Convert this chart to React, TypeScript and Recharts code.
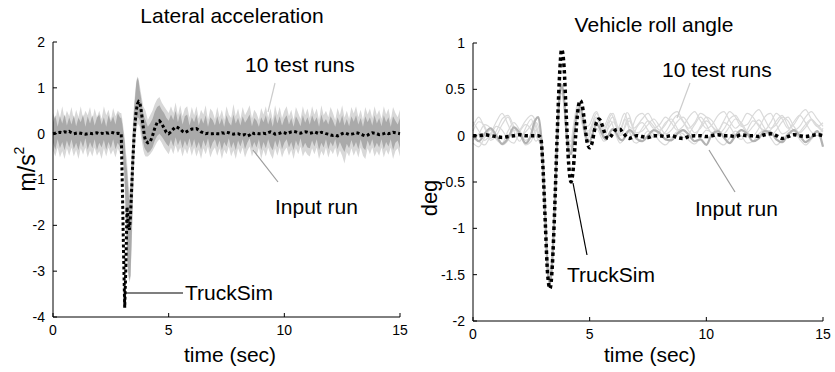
import React from 'react';
import { ComposedChart, LineChart, Area, Line, XAxis, YAxis } from 'recharts';

// ---- left panel: lateral acceleration (m/s^2) ----
const accTime = [
  0, 0.1, 0.2, 0.3, 0.4, 0.5, 0.6, 0.7, 0.8, 0.9, 1, 1.1, 1.2, 1.3, 1.4, 1.5, 1.6, 1.7, 1.8, 1.9,
  2, 2.1, 2.2, 2.3, 2.4, 2.5, 2.6, 2.7, 2.8, 2.9,
  2.95, 3, 3.05, 3.1, 3.15, 3.2, 3.25, 3.3, 3.35, 3.4, 3.45, 3.5, 3.55, 3.6, 3.65, 3.7, 3.75, 3.8, 3.85, 3.9, 3.95, 4,
  4.1, 4.2, 4.3, 4.4, 4.5, 4.6, 4.7, 4.8, 4.9, 5,
  5.1, 5.2, 5.3, 5.4, 5.5, 5.6, 5.7, 5.8, 5.9, 6,
  6.1, 6.2, 6.3, 6.4, 6.5, 6.6, 6.7, 6.8, 6.9, 7,
  7.1, 7.2, 7.3, 7.4, 7.5, 7.6, 7.7, 7.8, 7.9, 8,
  8.1, 8.2, 8.3, 8.4, 8.5, 8.6, 8.7, 8.8, 8.9, 9,
  9.1, 9.2, 9.3, 9.4, 9.5, 9.6, 9.7, 9.8, 9.9, 10,
  10.1, 10.2, 10.3, 10.4, 10.5, 10.6, 10.7, 10.8, 10.9, 11,
  11.1, 11.2, 11.3, 11.4, 11.5, 11.6, 11.7, 11.8, 11.9, 12,
  12.1, 12.2, 12.3, 12.4, 12.5, 12.6, 12.7, 12.8, 12.9, 13,
  13.1, 13.2, 13.3, 13.4, 13.5, 13.6, 13.7, 13.8, 13.9, 14,
  14.1, 14.2, 14.3, 14.4, 14.5, 14.6, 14.7, 14.8, 14.9, 15,
];

// envelope of the 10 test runs
const accRunsHi = [
  0.45, 0.3, 0.55, 0.35, 0.6, 0.32, 0.5, 0.38, 0.58, 0.3, 0.52, 0.36, 0.6, 0.33, 0.5, 0.4, 0.58, 0.3, 0.55, 0.36,
  0.5, 0.32, 0.6, 0.4, 0.52, 0.3, 0.56, 0.38, 0.5, 0.45,
  0.45, 0.3, 0.1, -0.1, -0.4, -0.6, -1.0, -1.3, -1.0, -0.4, 0.2, 0.6, 0.9, 1.15, 1.25, 1.2, 1.05, 0.9, 0.75, 0.6, 0.55, 0.5,
  0.3, 0.4, 0.5, 0.65, 0.75, 0.8, 0.68, 0.6, 0.52, 0.45,
  0.6, 0.45, 0.68, 0.4, 0.62, 0.38, 0.55, 0.6, 0.35, 0.58,
  0.4, 0.6, 0.33, 0.52, 0.42, 0.62, 0.3, 0.55, 0.48, 0.32,
  0.58, 0.36, 0.52, 0.3, 0.6, 0.42, 0.34, 0.65, 0.38, 0.55,
  0.32, 0.58, 0.4, 0.5, 0.62, 0.33, 0.52, 0.44, 0.3, 0.56,
  0.42, 0.6, 0.35, 0.55, 0.3, 0.62, 0.4, 0.58, 0.34, 0.5,
  0.6, 0.38, 0.52, 0.3, 0.58, 0.45, 0.32, 0.6, 0.4, 0.55,
  0.34, 0.6, 0.42, 0.55, 0.3, 0.62, 0.4, 0.5, 0.36, 0.58,
  0.45, 0.3, 0.56, 0.4, 0.62, 0.35, 0.5, 0.32, 0.58, 0.44,
  0.6, 0.36, 0.52, 0.3, 0.58, 0.42, 0.55, 0.34, 0.6, 0.4,
  0.52, 0.32, 0.6, 0.42, 0.55, 0.3, 0.58, 0.45, 0.36, 0.52,
];
const accRunsLo = [
  -0.35, -0.5, -0.3, -0.52, -0.38, -0.55, -0.32, -0.48, -0.3, -0.5, -0.35, -0.55, -0.32, -0.46, -0.3, -0.52, -0.36, -0.5, -0.3, -0.48,
  -0.38, -0.55, -0.32, -0.5, -0.3, -0.46, -0.35, -0.52, -0.32, -0.45,
  -0.35, -0.5, -0.8, -1.2, -2.0, -2.7, -3.1, -3.25, -3.15, -2.5, -1.6, -0.8, -0.3, 0.05, 0.2, 0.2, 0.15, -0.05, -0.2, -0.35, -0.45, -0.5,
  -0.5, -0.45, -0.38, -0.28, -0.18, -0.12, -0.2, -0.3, -0.38, -0.45,
  -0.3, -0.45, -0.25, -0.42, -0.3, -0.5, -0.32, -0.45, -0.28, -0.48,
  -0.3, -0.5, -0.35, -0.55, -0.32, -0.45, -0.28, -0.52, -0.38, -0.3,
  -0.48, -0.32, -0.55, -0.35, -0.45, -0.28, -0.5, -0.36, -0.55, -0.32,
  -0.45, -0.3, -0.52, -0.38, -0.28, -0.5, -0.35, -0.48, -0.3, -0.55,
  -0.35, -0.5, -0.3, -0.45, -0.55, -0.32, -0.48, -0.3, -0.52, -0.38,
  -0.3, -0.48, -0.35, -0.55, -0.32, -0.45, -0.28, -0.5, -0.38, -0.46,
  -0.5, -0.32, -0.45, -0.3, -0.55, -0.38, -0.48, -0.3, -0.52, -0.35,
  -0.45, -0.3, -0.52, -0.36, -0.48, -0.65, -0.4, -0.5, -0.32, -0.48,
  -0.35, -0.52, -0.3, -0.48, -0.55, -0.32, -0.45, -0.3, -0.5, -0.38,
  -0.48, -0.3, -0.52, -0.35, -0.46, -0.3, -0.55, -0.38, -0.32, -0.5,
];

// band of the input run
const accInputHi = [
  0.25, 0.4, 0.15, 0.38, 0.22, 0.42, 0.18, 0.36, 0.2, 0.4, 0.16, 0.35, 0.25, 0.42, 0.15, 0.38, 0.22, 0.4, 0.18, 0.35,
  0.42, 0.2, 0.36, 0.15, 0.4, 0.25, 0.38, 0.2, 0.45, 0.35,
  0.35, 0.2, 0.0, -0.2, -0.6, -0.8, -1.2, -1.5, -1.2, -0.6, 0.0, 0.5, 0.8, 1.1, 1.22, 1.15, 0.95, 0.8, 0.6, 0.45, 0.35, 0.3,
  0.15, 0.22, 0.32, 0.48, 0.58, 0.62, 0.52, 0.45, 0.35, 0.28,
  0.42, 0.3, 0.5, 0.25, 0.45, 0.2, 0.38, 0.42, 0.18, 0.36,
  0.25, 0.42, 0.18, 0.35, 0.22, 0.4, 0.15, 0.36, 0.3, 0.18,
  0.38, 0.2, 0.34, 0.15, 0.4, 0.25, 0.18, 0.42, 0.22, 0.35,
  0.18, 0.38, 0.24, 0.32, 0.42, 0.16, 0.34, 0.28, 0.15, 0.36,
  0.25, 0.4, 0.2, 0.36, 0.15, 0.42, 0.22, 0.38, 0.18, 0.32,
  0.4, 0.2, 0.34, 0.15, 0.38, 0.28, 0.16, 0.4, 0.24, 0.36,
  0.2, 0.4, 0.26, 0.36, 0.15, 0.42, 0.24, 0.32, 0.2, 0.38,
  0.28, 0.15, 0.36, 0.22, 0.4, 0.18, 0.32, 0.16, 0.38, 0.26,
  0.4, 0.2, 0.34, 0.15, 0.38, 0.25, 0.36, 0.18, 0.4, 0.22,
  0.34, 0.16, 0.4, 0.25, 0.36, 0.15, 0.38, 0.28, 0.2, 0.34,
];
const accInputLo = [
  -0.2, -0.35, -0.12, -0.32, -0.18, -0.36, -0.15, -0.3, -0.12, -0.34, -0.2, -0.36, -0.15, -0.3, -0.1, -0.35, -0.18, -0.32, -0.12, -0.36,
  -0.2, -0.3, -0.14, -0.35, -0.18, -0.32, -0.12, -0.34, -0.2, -0.3,
  -0.25, -0.4, -0.6, -1.0, -1.8, -2.5, -3.0, -3.2, -3.1, -2.3, -1.4, -0.6, -0.1, 0.2, 0.35, 0.35, 0.3, 0.1, -0.05, -0.2, -0.3, -0.35,
  -0.42, -0.38, -0.3, -0.15, -0.05, 0.0, -0.06, -0.14, -0.22, -0.28,
  -0.12, -0.28, -0.08, -0.25, -0.12, -0.32, -0.15, -0.28, -0.1, -0.3,
  -0.12, -0.32, -0.18, -0.35, -0.14, -0.28, -0.1, -0.34, -0.2, -0.12,
  -0.3, -0.15, -0.36, -0.18, -0.28, -0.1, -0.32, -0.18, -0.36, -0.15,
  -0.28, -0.12, -0.34, -0.2, -0.1, -0.32, -0.18, -0.3, -0.12, -0.36,
  -0.18, -0.32, -0.12, -0.28, -0.36, -0.15, -0.3, -0.12, -0.34, -0.2,
  -0.12, -0.3, -0.18, -0.36, -0.15, -0.28, -0.1, -0.32, -0.2, -0.3,
  -0.32, -0.15, -0.28, -0.12, -0.36, -0.2, -0.3, -0.12, -0.34, -0.18,
  -0.28, -0.12, -0.34, -0.18, -0.3, -0.4, -0.22, -0.32, -0.14, -0.3,
  -0.18, -0.34, -0.12, -0.3, -0.36, -0.15, -0.28, -0.12, -0.32, -0.2,
  -0.3, -0.12, -0.34, -0.18, -0.28, -0.12, -0.36, -0.2, -0.15, -0.32,
];

const accTruckSim = [
  0, 0.01, 0.02, 0.03, 0.02, 0.04, 0.03, 0.05, 0.02, 0, 0.01, 0.02, 0.01, 0, -0.01, 0, 0.01, 0, 0.01, 0.02,
  0, 0.01, 0, 0.02, 0.01, 0.03, 0.02, 0, 0.01, 0,
  0, -1.2, -2.6, -3.8, -2.9, -1.6, -1.9, -2.1, -1.8, -1.2, -0.6, -0.1, 0.25, 0.5, 0.65, 0.7, 0.68, 0.55, 0.35, 0.15, -0.05, -0.15,
  -0.2, -0.18, -0.05, 0.12, 0.24, 0.28, 0.22, 0.12, 0.03, 0,
  0.04, 0.1, 0.15, 0.13, 0.1, 0.05, 0.02, 0.05, 0.08, 0.1,
  0.1, 0.11, 0.08, 0.04, 0.02, 0, 0.01, 0, 0, 0.01,
  0, 0, 0.02, 0.01, 0.03, 0.02, 0, -0.01, 0, 0,
  -0.02, -0.03, -0.02, -0.05, -0.03, 0.02, 0, 0.01, 0, 0,
  0.01, 0, 0.02, 0.04, 0.02, -0.01, 0, 0.01, 0.03, 0.02,
  0, 0.02, 0.04, 0.05, 0.04, 0.02, 0.01, 0.03, 0.04, 0.03,
  0.01, 0.02, 0.04, 0.02, 0, 0.03, 0.02, 0, -0.01, -0.03,
  -0.04, -0.03, -0.05, -0.03, 0, 0.02, 0, -0.02, -0.01, 0,
  0.02, 0.01, -0.01, -0.03, -0.05, -0.03, 0, 0.02, 0.01, 0,
  -0.02, -0.01, 0, 0.02, 0, 0.01, 0.03, 0.02, 0.01, 0,
];

// ---- right panel: vehicle roll angle (deg) ----
const rollTime = [
  0, 0.25, 0.5, 0.75, 1, 1.25, 1.5, 1.75, 2, 2.25, 2.5,
  2.6, 2.7, 2.8, 2.9,
  3, 3.1, 3.2, 3.3, 3.4, 3.5, 3.6, 3.7, 3.8, 3.9,
  4, 4.1, 4.2, 4.3, 4.4, 4.5, 4.6, 4.7, 4.8, 4.9,
  5, 5.1, 5.2, 5.3, 5.4, 5.5, 5.6, 5.7, 5.8, 5.9,
  6, 6.1, 6.2, 6.3, 6.4, 6.5, 6.6, 6.7, 6.8, 6.9,
  7,
  7.25, 7.5, 7.75, 8, 8.25, 8.5, 8.75, 9, 9.25, 9.5, 9.75, 10,
  10.25, 10.5, 10.75, 11, 11.25, 11.5, 11.75, 12, 12.25, 12.5, 12.75, 13,
  13.25, 13.5, 13.75, 14, 14.25, 14.5, 14.75, 15,
];

const rollTruckSim = [
  0, 0, 0.01, 0, -0.01, -0.02, -0.01, 0, 0.01, 0, 0,
  0, 0, 0, -0.02,
  -0.35, -0.95, -1.5, -1.65, -1.4, -0.8, -0.05, 0.6, 0.93, 0.75,
  0.2, -0.3, -0.5, -0.35, 0, 0.28, 0.38, 0.3, 0.1, -0.08,
  -0.13, -0.08, 0.05, 0.15, 0.18, 0.14, 0.06, -0.01, -0.03, -0.01,
  0.03, 0.06, 0.07, 0.07, 0.04, 0.01, -0.02, -0.03, -0.02, -0.01,
  0,
  -0.01, -0.02, 0, 0, -0.01, 0, -0.02, -0.03, -0.01, 0, 0, -0.01,
  0, 0.01, 0, 0, -0.01, 0.01, 0, 0, -0.01, 0.01, 0.02, 0,
  -0.03, -0.01, 0.01, 0, -0.01, 0, 0.01, 0,
];

const rollInput = [
  0, -0.06, 0.02, 0.08, 0, -0.09, -0.03, 0.09, 0.03, -0.08, 0.02,
  0.12, 0.18, 0.2, 0.05,
  -0.3, -0.9, -1.45, -1.6, -1.35, -0.8, -0.1, 0.4, 0.55, 0.4,
  0.05, -0.15, -0.2, -0.05, 0.15, 0.28, 0.3, 0.2, 0.05, -0.05,
  -0.06, 0, 0.08, 0.12, 0.1, 0.04, -0.02, -0.04, 0, 0.05,
  0.07, 0.05, 0, -0.04, -0.05, -0.02, 0.03, 0.06, 0.05, 0.01,
  -0.03,
  -0.06, 0, 0.06, 0.03, -0.04, -0.05, 0.02, 0.06, 0.01, -0.06, -0.04, -0.1,
  0.02, 0.05, -0.02, -0.08, 0, 0.06, 0.02, -0.06, -0.03, 0.05, 0.04, -0.04,
  -0.07, 0.01, 0.06, 0, -0.07, -0.02, 0.05, -0.12,
];

const rollRun1 = [
  0.05, 0.15, 0.1, -0.05, 0, 0.12, 0.2, 0.05, -0.06, 0.08, 0.18,
  0.1, 0, -0.05, -0.1,
  -0.4, -0.9, -1.4, -1.55, -1.3, -0.75, -0.1, 0.35, 0.5, 0.38,
  0.05, -0.15, -0.18, -0.02, 0.15, 0.26, 0.27, 0.18, 0.06, 0,
  0.02, 0.08, 0.15, 0.18, 0.15, 0.1, 0.05, 0.04, 0.08, 0.12,
  0.15, 0.12, 0.06, 0.02, 0.03, 0.08, 0.14, 0.16, 0.12, 0.06,
  0.03,
  0.05, 0.12, 0.18, 0.1, 0.02, 0.06, 0.15, 0.2, 0.12, 0.03, 0.08, 0.16,
  0.1, 0.02, 0.07, 0.18, 0.22, 0.12, 0.04, 0.1, 0.17, 0.08, 0, 0.06,
  0.15, 0.2, 0.1, 0.03, 0.09, 0.17, 0.12, 0.05,
];
const rollRun2 = [
  -0.05, 0.02, 0.12, 0.08, -0.04, -0.08, 0.05, 0.14, 0.06, -0.05, 0,
  0.08, 0.14, 0.1, -0.02,
  -0.3, -0.85, -1.35, -1.5, -1.25, -0.7, -0.05, 0.4, 0.52, 0.35,
  0, -0.18, -0.15, 0.02, 0.2, 0.3, 0.28, 0.15, 0.02, -0.04,
  0, 0.1, 0.18, 0.2, 0.14, 0.05, 0, 0.02, 0.1, 0.18,
  0.2, 0.15, 0.06, 0, 0.02, 0.1, 0.17, 0.19, 0.12, 0.04,
  0,
  0.08, 0.16, 0.1, 0, 0.04, 0.14, 0.22, 0.15, 0.05, 0, 0.1, 0.2,
  0.16, 0.06, 0.02, 0.1, 0.18, 0.14, 0.04, 0, 0.08, 0.2, 0.24, 0.12,
  0.02, 0.05, 0.15, 0.22, 0.14, 0.04, 0, 0.08,
];
const rollRun3 = [
  0.1, 0.2, 0.08, -0.03, 0.05, 0.18, 0.22, 0.1, 0, 0.04, 0.12,
  0.16, 0.08, 0, -0.08,
  -0.45, -1, -1.5, -1.6, -1.3, -0.7, 0, 0.45, 0.56, 0.4,
  0.08, -0.1, -0.12, 0.05, 0.22, 0.33, 0.32, 0.22, 0.1, 0.05,
  0.06, 0.12, 0.2, 0.24, 0.2, 0.12, 0.08, 0.1, 0.16, 0.22,
  0.24, 0.18, 0.1, 0.06, 0.1, 0.18, 0.25, 0.22, 0.14, 0.08,
  0.1,
  0.18, 0.24, 0.14, 0.06, 0.12, 0.22, 0.26, 0.16, 0.08, 0.14, 0.24, 0.2,
  0.1, 0.06, 0.16, 0.26, 0.2, 0.1, 0.12, 0.22, 0.28, 0.18, 0.08, 0.12,
  0.2, 0.16, 0.06, 0.1, 0.2, 0.26, 0.18, 0.1,
];
const rollRun4 = [
  -0.08, -0.12, -0.02, 0.06, 0, -0.1, -0.05, 0.06, 0.02, -0.1, -0.06,
  0.02, 0.06, 0.02, -0.1,
  -0.42, -0.92, -1.42, -1.58, -1.35, -0.78, -0.12, 0.32, 0.46, 0.3,
  -0.02, -0.2, -0.2, -0.06, 0.1, 0.2, 0.2, 0.1, -0.02, -0.08,
  -0.06, 0, 0.06, 0.08, 0.04, -0.02, -0.06, -0.05, 0, 0.05,
  0.06, 0.02, -0.04, -0.08, -0.06, 0, 0.05, 0.04, -0.02, -0.07,
  -0.08,
  -0.02, 0.05, 0.02, -0.06, -0.1, -0.03, 0.04, 0.02, -0.05, -0.09, -0.02, 0.06,
  0.03, -0.06, -0.1, -0.02, 0.05, 0, -0.08, -0.06, 0.02, 0.06, -0.02, -0.1,
  -0.05, 0.03, 0.05, -0.04, -0.1, -0.04, 0.04, 0,
];
const rollRun5 = [
  0.02, -0.06, -0.1, 0, 0.1, 0.06, -0.04, -0.08, 0.04, 0.12, 0.06,
  -0.02, -0.06, -0.04, -0.06,
  -0.38, -0.88, -1.38, -1.52, -1.28, -0.72, -0.06, 0.38, 0.5, 0.36,
  0.04, -0.12, -0.1, 0.06, 0.2, 0.26, 0.22, 0.12, 0.02, 0,
  0.05, 0.12, 0.16, 0.14, 0.08, 0.02, 0.02, 0.08, 0.14, 0.16,
  0.1, 0.03, 0, 0.04, 0.12, 0.18, 0.14, 0.06, 0, 0.02,
  0.08,
  0.14, 0.06, -0.02, 0.04, 0.14, 0.18, 0.08, -0.02, 0.02, 0.12, 0.2, 0.12,
  0.02, 0.04, 0.14, 0.1, 0, -0.04, 0.06, 0.16, 0.12, 0.02, 0.06, 0.16,
  0.22, 0.1, 0, 0.04, 0.12, 0.18, 0.1, 0.04,
];
const rollRun6 = [
  0.15, 0.05, -0.05, 0.02, 0.15, 0.24, 0.12, 0, 0.06, 0.16, 0.22,
  0.2, 0.12, 0.04, -0.04,
  -0.32, -0.82, -1.3, -1.45, -1.2, -0.65, 0.02, 0.42, 0.54, 0.42,
  0.12, -0.05, -0.06, 0.1, 0.26, 0.36, 0.34, 0.24, 0.14, 0.1,
  0.12, 0.18, 0.24, 0.26, 0.2, 0.12, 0.1, 0.14, 0.2, 0.24,
  0.2, 0.12, 0.08, 0.12, 0.2, 0.24, 0.18, 0.1, 0.08, 0.14,
  0.2,
  0.24, 0.16, 0.08, 0.12, 0.2, 0.14, 0.06, 0.1, 0.2, 0.26, 0.16, 0.08,
  0.12, 0.22, 0.26, 0.16, 0.08, 0.14, 0.24, 0.2, 0.1, 0.06, 0.14, 0.24,
  0.18, 0.08, 0.12, 0.22, 0.28, 0.18, 0.1, 0.14,
];
const rollRuns = [rollRun1, rollRun2, rollRun3, rollRun4, rollRun5, rollRun6];

const timeTicks = [0, 5, 10, 15];
const accTicks = [-4, -3, -2, -1, 0, 1, 2];
const rollTicks = [-2, -1.5, -1, -0.5, 0, 0.5, 1];

const accRows = accTime.map((t, i) => ({
  t,
  runs: [accRunsLo[i], accRunsHi[i]],
  input: [accInputLo[i], accInputHi[i]],
  truck: accTruckSim[i],
}));

const rollRows = rollTime.map((t, i) => {
  const row: Record<string, number> = { t, input: rollInput[i], truck: rollTruckSim[i] };
  rollRuns.forEach((r, k) => { row[`run${k}`] = r[i]; });
  return row;
});

const FONT = '"Liberation Sans", Arial, Helvetica, sans-serif';
const tickStyle = { fontSize: 14, fill: '#000', fontFamily: FONT };
const axisLine = { stroke: '#000', strokeWidth: 1 };

export default function App() {
  return (
    <div style={{ position: 'absolute', left: 0, top: 0, width: 835, height: 372, background: '#fff', fontFamily: FONT }}>
      <div style={{ position: 'absolute', left: 0, top: 0 }}>
        <ComposedChart width={420} height={372} data={accRows} margin={{ top: 42, right: 20, bottom: 0, left: 0 }}>
          <XAxis dataKey="t" type="number" domain={[0, 15]} ticks={timeTicks} height={55}
            axisLine={axisLine} tickLine={axisLine} tickSize={-4} tickMargin={12} tick={tickStyle} interval={0} />
          <YAxis type="number" domain={[-4, 2]} ticks={accTicks} width={53}
            axisLine={axisLine} tickLine={axisLine} tickSize={-4} tickMargin={12} tick={tickStyle} interval={0} />
          <Area dataKey="runs" type="linear" stroke="none" fill="#d8d8d8" fillOpacity={1} isAnimationActive={false} dot={false} activeDot={false} />
          <Area dataKey="input" type="linear" stroke="none" fill="#aaaaaa" fillOpacity={1} isAnimationActive={false} dot={false} activeDot={false} />
          <Line dataKey="truck" type="linear" stroke="#000" strokeWidth={3} strokeDasharray="3 2.5" dot={false} activeDot={false} isAnimationActive={false} />
        </ComposedChart>
      </div>
      <div style={{ position: 'absolute', left: 420, top: 0 }}>
        <LineChart width={415} height={372} data={rollRows} margin={{ top: 43, right: 12, bottom: 0, left: 0 }}>
          <XAxis dataKey="t" type="number" domain={[0, 15]} ticks={timeTicks} height={51}
            axisLine={axisLine} tickLine={axisLine} tickSize={-4} tickMargin={12} tick={tickStyle} interval={0} />
          <YAxis type="number" domain={[-2, 1]} ticks={rollTicks} width={53}
            axisLine={axisLine} tickLine={axisLine} tickSize={-4} tickMargin={12} tick={tickStyle} interval={0} />
          {rollRuns.map((_, k) => (
            <Line key={k} dataKey={`run${k}`} type="monotone" stroke="#dadada" strokeWidth={1.2} dot={false} activeDot={false} isAnimationActive={false} />
          ))}
          <Line dataKey="input" type="monotone" stroke="#b2b2b2" strokeWidth={2.2} dot={false} activeDot={false} isAnimationActive={false} />
          <Line dataKey="truck" type="monotone" stroke="#000" strokeWidth={3.5} strokeDasharray="3.5 3" dot={false} activeDot={false} isAnimationActive={false} />
        </LineChart>
      </div>

      {/* titles, axis labels and annotations */}
      <svg width={835} height={372} style={{ position: 'absolute', left: 0, top: 0, pointerEvents: 'none' }} fontFamily={FONT}>
        <text x={232} y={15} fontSize={21} textAnchor="middle" dominantBaseline="central">Lateral acceleration</text>
        <text x={654} y={24} fontSize={21} textAnchor="middle" dominantBaseline="central">Vehicle roll angle</text>
        <text x={230} y={354} fontSize={21} textAnchor="middle" dominantBaseline="central">time (sec)</text>
        <text x={650} y={354} fontSize={21} textAnchor="middle" dominantBaseline="central">time (sec)</text>
        <text x={0} y={0} fontSize={23} textAnchor="middle" dominantBaseline="central" transform="translate(27,169) rotate(-90)">
          m/s<tspan fontSize={14} dy={-8}>2</tspan>
        </text>
        <text x={0} y={0} fontSize={22} textAnchor="middle" dominantBaseline="central" transform="translate(429,198) rotate(-90)">deg</text>

        <line x1={275} y1={83} x2={268} y2={112} stroke="#cccccc" strokeWidth={1.2} />
        <text x={245} y={64} fontSize={21} dominantBaseline="central">10 test runs</text>
        <line x1={253} y1={150} x2={278} y2={182} stroke="#9c9c9c" strokeWidth={1.2} />
        <text x={275} y={206} fontSize={21} dominantBaseline="central">Input run</text>
        <line x1={125} y1={293} x2={183} y2={293} stroke="#000" strokeWidth={1.2} />
        <text x={185} y={292} fontSize={21} dominantBaseline="central">TruckSim</text>

        <line x1={690} y1={83} x2={677} y2={118} stroke="#cccccc" strokeWidth={1.2} />
        <text x={662} y={69} fontSize={21} dominantBaseline="central">10 test runs</text>
        <line x1={709} y1={150} x2={735} y2={192} stroke="#9c9c9c" strokeWidth={1.2} />
        <text x={695} y={208} fontSize={21} dominantBaseline="central">Input run</text>
        <line x1={573} y1={183} x2={587} y2={255} stroke="#000" strokeWidth={1.2} />
        <text x={567} y={274} fontSize={21} dominantBaseline="central">TruckSim</text>
      </svg>
    </div>
  );
}
